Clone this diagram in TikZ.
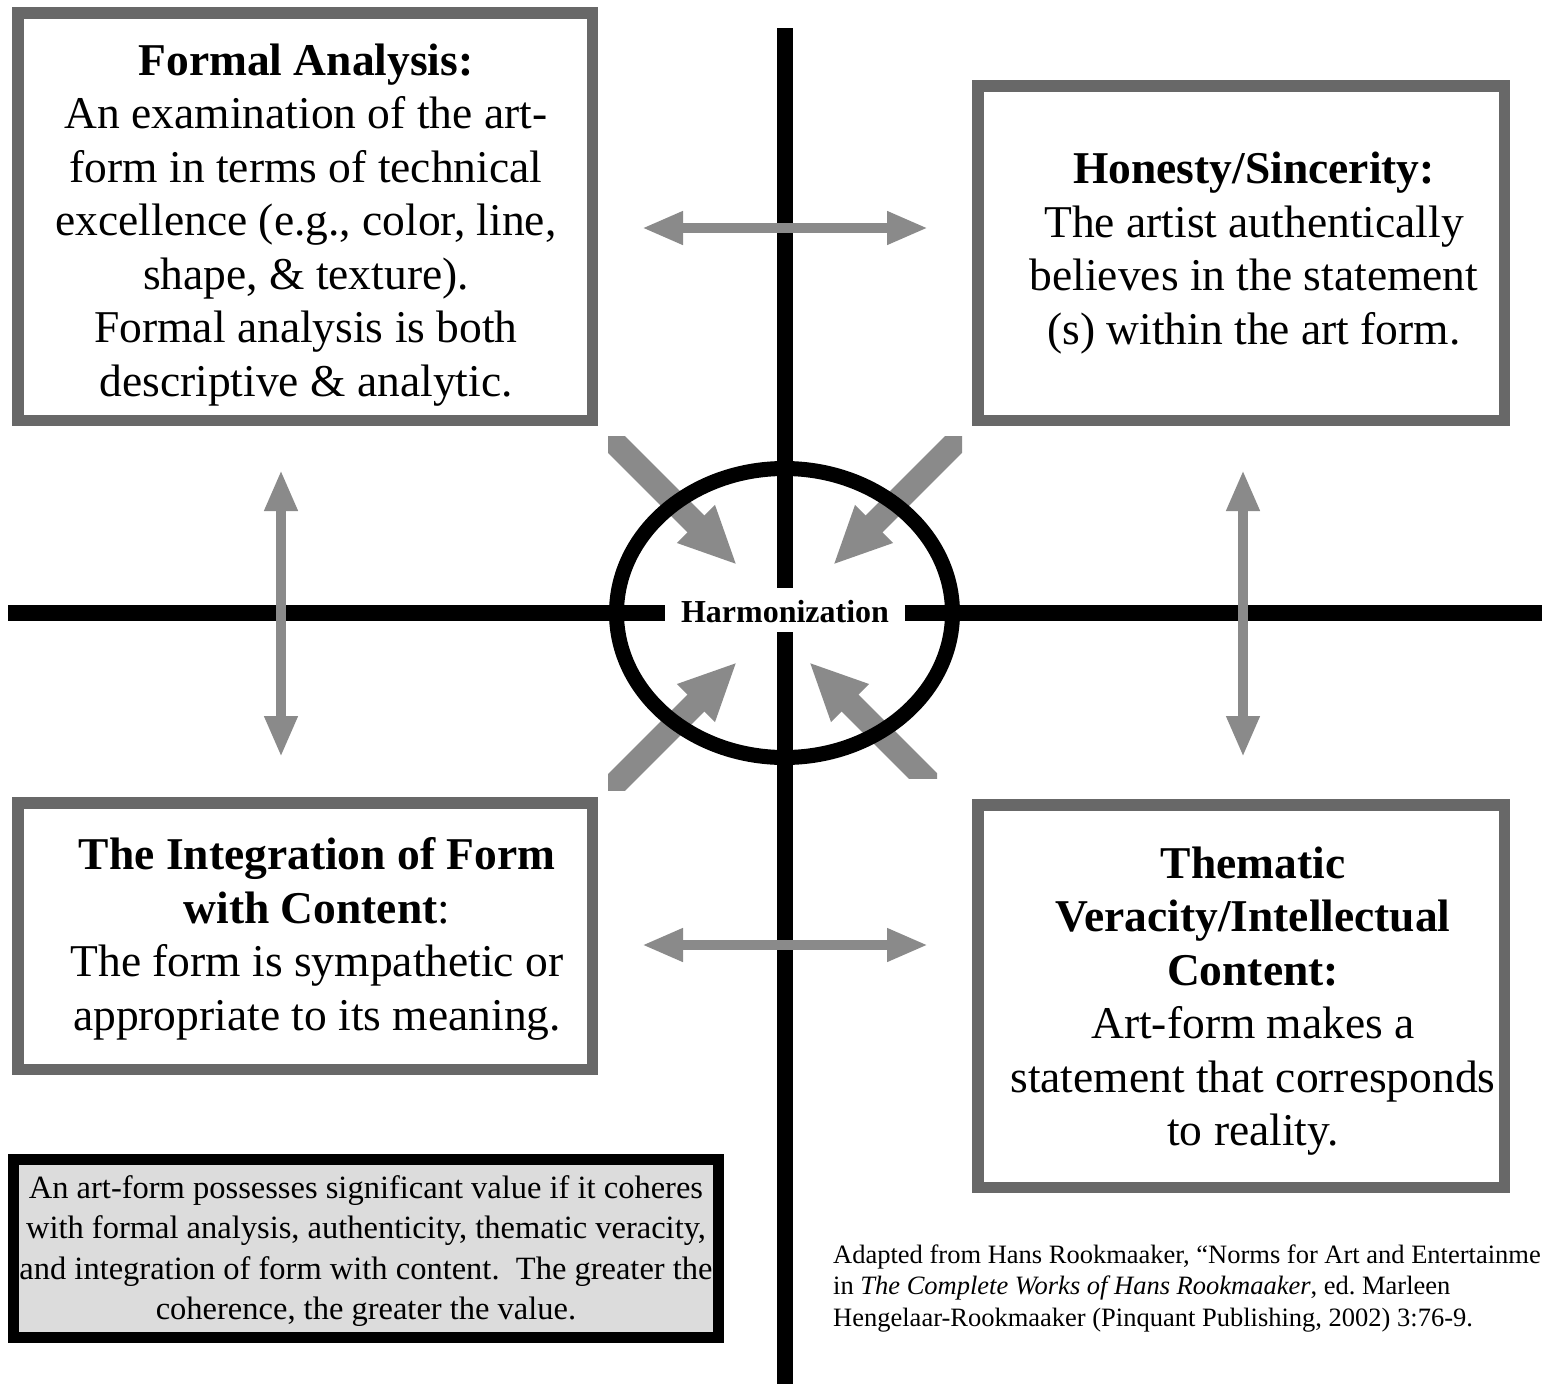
\documentclass[tikz,border=0pt]{standalone}
\usepackage{fontspec}
\setmainfont{Liberation Serif}
\usetikzlibrary{arrows.meta,shapes.geometric}
\definecolor{boxgray}{HTML}{686868}
\definecolor{arrgray}{HTML}{8A8A8A}
\definecolor{notegray}{HTML}{DCDCDC}
\begin{document}
\begin{tikzpicture}[x=1pt,y=-1pt,
  qbox/.style={draw=boxgray, line width=11.5pt, fill=white, inner sep=0pt},
  qtext/.style={align=center, font=\fontsize{45.5}{53.5}\selectfont, inner sep=0pt},
  axisline/.style={line width=15.5pt, black},
  dblarrow/.style={arrgray, line width=10pt, {Triangle[length=41pt,width=31pt]}-{Triangle[length=41pt,width=31pt]}},
  fatarrow/.style={arrgray, line width=24pt, -{Triangle[length=58pt,width=49pt]}},
]
\useasboundingbox[fill=white] (0,0) rectangle (1542,1384);

% axes
\coordinate (vtop) at (785,28);
\coordinate (vgap1) at (785,588);
\coordinate (vgap2) at (785,632);
\coordinate (vbot) at (785,1384);
\coordinate (hleft) at (8,613);
\coordinate (hgap1) at (665,613);
\coordinate (hgap2) at (905,613);
\coordinate (hright) at (1542,613);
\draw[axisline] (vtop) -- (vgap1);
\draw[axisline] (vgap2) -- (vbot);
\draw[axisline] (hleft) -- (hgap1);
\draw[axisline] (hgap2) -- (hright);

% boxes
\node[qbox, minimum width=574.5pt, minimum height=407.5pt] (faBox) at (305,216.5) {};
\node[qbox, minimum width=526.5pt, minimum height=334.5pt] (hsBox) at (1241,253) {};
\node[qbox, minimum width=574.5pt, minimum height=266.5pt] (ifBox) at (305,936) {};
\node[qbox, minimum width=526.5pt, minimum height=382.5pt] (tvBox) at (1241,996) {};

% box texts
\node[qtext] (fa) at (306,225) {\textbf{Formal Analysis:}\\An examination of the art-\\form in terms of technical\\excellence (e.g., color, line,\\shape, \& texture).\\Formal analysis is both\\descriptive \& analytic.};
\node[qtext] (hs) at (1254,253) {\textbf{Honesty/Sincerity:}\\The artist authentically\\believes in the statement\\(s) within the art form.};
\node[qtext] (if) at (317,939) {\textbf{The Integration of Form}\\\textbf{with Content}:\\The form is sympathetic or\\appropriate to its meaning.};
\node[qtext] (tv) at (1253,1001) {\textbf{Thematic}\\\textbf{Veracity/Intellectual}\\\textbf{Content:}\\Art-form makes a\\statement that corresponds\\to reality.};

% double arrows
\coordinate (ta1) at (642,228);  \coordinate (ta2) at (928,228);
\coordinate (ba1) at (642,945);  \coordinate (ba2) at (928,945);
\coordinate (la1) at (281,470);  \coordinate (la2) at (281,757);
\coordinate (ra1) at (1243,470); \coordinate (ra2) at (1243,757);
\draw[dblarrow] (ta1) -- (ta2);
\draw[dblarrow] (ba1) -- (ba2);
\draw[dblarrow] (la1) -- (la2);
\draw[dblarrow] (ra1) -- (ra2);

% diagonal arrows toward the centre
\coordinate (tlTail) at (600,428);  \coordinate (tlTip) at (737,565);
\coordinate (trTail) at (970,428);  \coordinate (trTip) at (833,565);
\coordinate (blTail) at (600,799);  \coordinate (blTip) at (737,662);
\coordinate (brTail) at (946,799);  \coordinate (brTip) at (809,662);
\begin{scope}
\clip (608,436) rectangle (962,790);
\draw[fatarrow] (tlTail) -- (tlTip);
\draw[fatarrow] (trTail) -- (trTip);
\draw[fatarrow] (blTail) -- (blTip);
\end{scope}
\begin{scope}
\clip (608,436) rectangle (937,778);
\draw[fatarrow] (brTail) -- (brTip);
\end{scope}

% ellipse
\node[draw=black, line width=15pt, ellipse, minimum width=336pt, minimum height=289pt, inner sep=0pt] (ring) at (784.5,613) {};
\node[font=\bfseries\fontsize{32}{38}\selectfont, inner sep=0pt] (h) at (785,612) {Harmonization};

% note box
\node[draw=black, line width=11pt, fill=notegray, minimum width=705pt, minimum height=178pt, inner sep=0pt] (noteBox) at (366,1248.5) {};
\node[align=center, font=\fontsize{32.5}{40.5}\selectfont, inner sep=0pt] (note) at (366,1251) {An art-form possesses significant value if it coheres\\with formal analysis, authenticity, thematic veracity,\\and integration of form with content.\ \ The greater the\\coherence, the greater the value.};

% citation
\node[align=left, anchor=base west, font=\fontsize{26.5}{31.5}\selectfont, inner sep=0pt] (cite) at (833,1326) {Adapted from Hans Rookmaaker, ``Norms for Art and Entertainme\\in \textit{The Complete Works of Hans Rookmaaker}, ed.\ Marleen\\Hengelaar-Rookmaaker (Pinquant Publishing, 2002) 3:76-9.};
\end{tikzpicture}
\end{document}
